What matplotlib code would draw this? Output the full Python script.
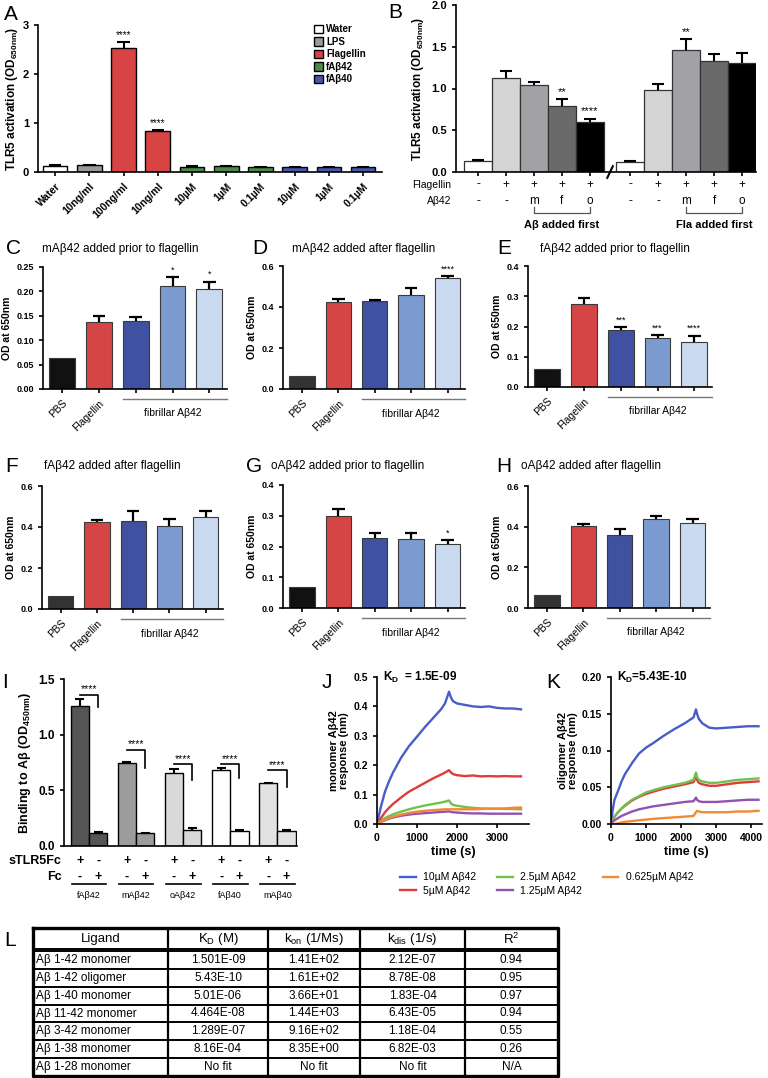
import numpy as np
import matplotlib
matplotlib.use('Agg')
import matplotlib.pyplot as plt
from matplotlib.patches import Patch

plt.rcParams['font.family'] = ['Liberation Sans', 'DejaVu Sans']
plt.rcParams['mathtext.fontset'] = 'custom'
plt.rcParams['mathtext.rm'] = 'Liberation Sans'
plt.rcParams['mathtext.bf'] = 'Liberation Sans:bold'
plt.rcParams['mathtext.it'] = 'Liberation Sans:italic'
plt.rcParams['axes.linewidth'] = 1.2
plt.rcParams['xtick.major.width'] = 1.2
plt.rcParams['ytick.major.width'] = 1.2
plt.rcParams['xtick.major.size'] = 3
plt.rcParams['ytick.major.size'] = 3

# ---------------- data ----------------
# A: TLR5 activation
a_labels = ['Water', '10ng/ml', '100ng/ml', '10ng/ml', '10µM', '1µM', '0.1µM', '10µM', '1µM', '0.1µM']
a_groups = ['Water', 'LPS', 'Flagellin', 'Flagellin', 'fAβ42', 'fAβ42', 'fAβ42', 'fAβ40', 'fAβ40', 'fAβ40']
a_vals = [0.125, 0.135, 2.54, 0.83, 0.11, 0.12, 0.10, 0.10, 0.10, 0.10]
a_errs = [0.01, 0.015, 0.11, 0.02, 0.005, 0.008, 0.005, 0.004, 0.004, 0.004]
a_stars = ['', '', '****', '****', '', '', '', '', '', '']

# B: order of addition
b_flag = ['-', '+', '+', '+', '+', '-', '+', '+', '+', '+']
b_abeta = ['-', '-', 'm', 'f', 'o', '-', '-', 'm', 'f', 'o']
b_vals = [0.13, 1.12, 1.04, 0.79, 0.60, 0.12, 0.98, 1.46, 1.33, 1.30]
b_errs = [0.01, 0.09, 0.04, 0.08, 0.04, 0.01, 0.07, 0.13, 0.08, 0.12]
b_stars = ['', '', '', '**', '****', '', '', '**', '', '']
b_brackets = ['Aβ added first', 'Fla added first']

# C-H: OD at 650nm
od_ticklabels = ['PBS', 'Flagellin', '', '', '']
c_vals = [0.064, 0.137, 0.140, 0.211, 0.204]
c_errs = [0.0, 0.013, 0.008, 0.018, 0.016]
c_stars = ['', '', '', '*', '*']
d_vals = [0.062, 0.426, 0.430, 0.460, 0.540]
d_errs = [0.0, 0.014, 0.006, 0.032, 0.012]
d_stars = ['', '', '', '', '****']
e_vals = [0.059, 0.276, 0.188, 0.161, 0.149]
e_errs = [0.0, 0.017, 0.009, 0.011, 0.021]
e_stars = ['', '', '***', '***', '****']
f_vals = [0.061, 0.425, 0.430, 0.407, 0.447]
f_errs = [0.0, 0.009, 0.047, 0.032, 0.032]
g_vals = [0.067, 0.299, 0.228, 0.224, 0.208]
g_errs = [0.0, 0.023, 0.015, 0.021, 0.014]
g_stars = ['', '', '', '', '*']
h_vals = [0.063, 0.405, 0.357, 0.436, 0.420]
h_errs = [0.0, 0.008, 0.030, 0.016, 0.017]

# I: binding to Abeta
i_ligands = ['fAβ42', 'mAβ42', 'oAβ42', 'fAβ40', 'mAβ40']
i_tlr = [1.26, 0.745, 0.655, 0.685, 0.565]
i_tlr_err = [0.06, 0.012, 0.035, 0.012, 0.005]
i_fc = [0.12, 0.117, 0.147, 0.135, 0.132]
i_fc_err = [0.005, 0.004, 0.013, 0.006, 0.015]
i_bracket_top = [1.357, 0.862, 0.733, 0.733, 0.68]
i_bracket_drop = [1.246, 0.697, 0.59, 0.607, 0.526]

# J/K: BLI sensorgrams
conc_labels = ['10µM Aβ42', '5µM Aβ42', '2.5µM Aβ42', '1.25µM Aβ42', '0.625µM Aβ42']
j_time = [0, 100, 200, 300, 400, 600, 800, 1000, 1200, 1400, 1600, 1700, 1800, 1850, 1900,
          2000, 2200, 2400, 2600, 2800, 3000, 3200, 3400, 3600]
j_10 = [0.0, 0.06, 0.11, 0.145, 0.175, 0.225, 0.265, 0.297, 0.33, 0.36, 0.39, 0.41, 0.45, 0.43, 0.418,
        0.41, 0.405, 0.40, 0.398, 0.40, 0.395, 0.393, 0.393, 0.39]
j_5 = [0.0, 0.02, 0.04, 0.055, 0.068, 0.09, 0.11, 0.125, 0.14, 0.155, 0.168, 0.175, 0.183, 0.175, 0.17,
       0.166, 0.163, 0.165, 0.162, 0.163, 0.162, 0.163, 0.162, 0.162]
j_25 = [0.0, 0.01, 0.02, 0.027, 0.033, 0.042, 0.05, 0.057, 0.063, 0.068, 0.073, 0.076, 0.08, 0.07, 0.065,
        0.062, 0.058, 0.055, 0.053, 0.052, 0.052, 0.051, 0.051, 0.05]
j_125 = [0.0, 0.007, 0.013, 0.018, 0.022, 0.028, 0.032, 0.035, 0.037, 0.039, 0.041, 0.042, 0.043, 0.041, 0.04,
         0.039, 0.037, 0.036, 0.036, 0.035, 0.035, 0.035, 0.035, 0.035]
j_0625 = [0.0, 0.008, 0.015, 0.02, 0.025, 0.032, 0.038, 0.042, 0.045, 0.047, 0.049, 0.05, 0.05, 0.05, 0.05,
          0.05, 0.05, 0.05, 0.051, 0.052, 0.052, 0.053, 0.055, 0.056]
k_time = [0, 50, 100, 200, 300, 400, 600, 800, 1000, 1200, 1500, 1800, 2100, 2350, 2420, 2450,
          2500, 2600, 2800, 3000, 3300, 3600, 3900, 4200]
k_10 = [0.0, 0.02, 0.033, 0.045, 0.058, 0.068, 0.083, 0.096, 0.104, 0.11, 0.12, 0.129, 0.137, 0.145, 0.156, 0.15,
        0.143, 0.137, 0.131, 0.13, 0.131, 0.132, 0.133, 0.133]
k_5 = [0.0, 0.005, 0.01, 0.016, 0.021, 0.025, 0.032, 0.037, 0.041, 0.044, 0.048, 0.051, 0.054, 0.057, 0.064, 0.06,
       0.056, 0.054, 0.052, 0.052, 0.054, 0.056, 0.057, 0.058]
k_25 = [0.0, 0.005, 0.01, 0.016, 0.021, 0.026, 0.033, 0.038, 0.043, 0.046, 0.05, 0.053, 0.056, 0.06, 0.07, 0.064,
        0.06, 0.058, 0.056, 0.056, 0.058, 0.06, 0.061, 0.062]
k_125 = [0.0, 0.003, 0.005, 0.008, 0.011, 0.013, 0.017, 0.02, 0.022, 0.024, 0.026, 0.028, 0.03, 0.031, 0.036, 0.033,
         0.031, 0.03, 0.03, 0.03, 0.031, 0.032, 0.033, 0.033]
k_0625 = [0.0, 0.0, 0.0, 0.001, 0.002, 0.003, 0.004, 0.005, 0.006, 0.007, 0.008, 0.009, 0.01, 0.011, 0.016, 0.018,
          0.017, 0.016, 0.016, 0.016, 0.016, 0.017, 0.017, 0.018]

# L: kinetics table
l_header = ['Ligand', r'K$_\mathrm{D}$ (M)', r'k$_\mathrm{on}$ (1/Ms)', r'k$_\mathrm{dis}$ (1/s)', r'R$^2$']
l_ligand = ['Aβ 1-42 monomer', 'Aβ 1-42 oligomer', 'Aβ 1-40 monomer', 'Aβ 11-42 monomer',
            'Aβ 3-42 monomer', 'Aβ 1-38 monomer', 'Aβ 1-28 monomer']
l_kd = ['1.501E-09', '5.43E-10', '5.01E-06', '4.464E-08', '1.289E-07', '8.16E-04', 'No fit']
l_kon = ['1.41E+02', '1.61E+02', '3.66E+01', '1.44E+03', '9.16E+02', '8.35E+00', 'No fit']
l_kdis = ['2.12E-07', '8.78E-08', '1.83E-04', '6.43E-05', '1.18E-04', '6.82E-03', 'No fit']
l_r2 = ['0.94', '0.95', '0.97', '0.94', '0.55', '0.26', 'N/A']

# ---------------- layout helpers ----------------
W, H = 768, 1078
fig = plt.figure(figsize=(W / 100, H / 100), dpi=100)


def add_ax(l, t, r, b):
    return fig.add_axes([l / W, 1 - b / H, (r - l) / W, (b - t) / H])


def prism(ax):
    ax.spines['top'].set_visible(False)
    ax.spines['right'].set_visible(False)
    ax.tick_params(direction='out')


def letter(x, y, s):
    fig.text(x / W, 1 - y / H, s, fontsize=15, ha='left', va='center')


def up_err(ax, x, vals, errs, half, lw=1.5):
    x = np.asarray(x, dtype=float)
    top = np.asarray(vals) + np.asarray(errs)
    ax.vlines(x, vals, top, color='black', lw=lw, zorder=3)
    ax.hlines(top, x - half, x + half, color='black', lw=lw, zorder=3)


# ---------------- panel A ----------------
axA = add_ax(38, 25, 382, 172)
prism(axA)
a_colors = {'Water': 'white', 'LPS': '#9a9a9a', 'Flagellin': '#d84343', 'fAβ42': '#4a8a4a', 'fAβ40': '#4656a8'}
xa = np.arange(len(a_vals))
axA.bar(xa, a_vals, width=0.72, color=[a_colors[g] for g in a_groups], edgecolor='black', linewidth=1.0)
up_err(axA, xa, a_vals, a_errs, 0.18)
for x, v, e, s in zip(xa, a_vals, a_errs, a_stars):
    if s:
        axA.text(x, v + e + 0.05, s, ha='center', va='bottom', fontsize=7)
axA.set_xlim(-0.5, 9.55)
axA.set_ylim(0, 3)
axA.set_yticks([0, 1, 2, 3])
axA.set_yticklabels(['0', '1', '2', '3'], fontsize=8, fontweight='bold')
axA.set_xticks(xa)
axA.set_xticklabels(a_labels, rotation=45, ha='right', rotation_mode='anchor', fontsize=7.5, fontweight='bold')
axA.set_ylabel(r'TLR5 activation (OD$_\mathbf{650nm}$)', fontsize=8.5, fontweight='bold', labelpad=2)
handles = [Patch(facecolor=a_colors[k], edgecolor='black', linewidth=1.0) for k in a_colors]
axA.legend(handles, list(a_colors), loc='upper left', bbox_to_anchor=(0.79, 1.03), frameon=False,
           prop={'size': 7, 'weight': 'bold'}, handlelength=1.0, handleheight=1.0, handletextpad=0.3,
           labelspacing=0.25, borderaxespad=0)
letter(4, 14, 'A')

# ---------------- panel B ----------------
axB = add_ax(456, 5, 756, 172)
prism(axB)
xb = np.array([0, 1, 2, 3, 4, 5.44, 6.44, 7.44, 8.44, 9.44])
b_colors = ['white', '#d4d4d4', '#a2a2a6', '#6a6a6a', '#000000'] * 2
axB.bar(xb, b_vals, width=1.0, color=b_colors, edgecolor='#333333', linewidth=0.9)
up_err(axB, xb, b_vals, b_errs, 0.22)
for x, v, e, s in zip(xb, b_vals, b_errs, b_stars):
    if s:
        axB.text(x, v + e + 0.03, s, ha='center', va='bottom', fontsize=8)
axB.set_xlim(-0.79, 9.94)
axB.set_ylim(0, 2)
axB.set_yticks([0, 0.5, 1.0, 1.5, 2.0])
axB.set_yticklabels(['0.0', '0.5', '1.0', '1.5', '2.0'], fontsize=8, fontweight='bold')
axB.set_xticks(xb)
axB.set_xticklabels([])
axB.set_ylabel(r'TLR5 activation (OD$_\mathbf{650nm}$)', fontsize=8.5, fontweight='bold', labelpad=4)
axB.plot([4.62, 4.82], [-0.07, 0.07], color='black', lw=1.5, clip_on=False)
tb = axB.get_xaxis_transform()
for x, f, a in zip(xb, b_flag, b_abeta):
    axB.text(x, -0.075, f, transform=tb, ha='center', va='center', fontsize=8.5)
    axB.text(x, -0.175, a, transform=tb, ha='center', va='center', fontsize=8.5)
axB.text(-0.015, -0.075, 'Flagellin', transform=axB.transAxes, ha='right', va='center', fontsize=7.5)
axB.text(-0.015, -0.175, 'Aβ42', transform=axB.transAxes, ha='right', va='center', fontsize=7.5)
for i, lab in enumerate(b_brackets):
    x0, x1 = xb[5 * i + 2], xb[5 * i + 4]
    axB.plot([x0, x0, x1, x1], [-0.21, -0.245, -0.245, -0.21], transform=tb, color='#555555', lw=0.9,
             clip_on=False)
    axB.text((x0 + x1) / 2, -0.315, lab, transform=tb, ha='center', va='center', fontsize=8, fontweight='bold')
letter(388, 12, 'B')

# ---------------- panels C-H ----------------
od_colors = ['#d64545', '#3f51a0', '#7b9bd0', '#c9d9ef']


def od_panel(box, vals, errs, stars, ymax, ticks, fmt, pbs_color, title, let, let_x, title_x, title_y):
    ax = add_ax(*box)
    prism(ax)
    x = np.arange(len(vals))
    ax.bar(x, vals, width=0.7, color=[pbs_color] + od_colors, edgecolor='#3a3a3a', linewidth=0.8)
    up_err(ax, x[1:], vals[1:], errs[1:], 0.17, lw=1.6)
    for xi, v, e, s in zip(x, vals, errs, stars):
        if s:
            ax.text(xi, v + e + ymax * 0.02, s, ha='center', va='bottom', fontsize=6.5)
    ax.set_xlim(-0.52, 4.48)
    ax.set_ylim(0, ymax)
    ax.set_yticks(ticks)
    ax.set_yticklabels([fmt.format(t) for t in ticks], fontsize=6.5, fontweight='bold')
    ax.set_xticks(x)
    ax.set_xticklabels(od_ticklabels, rotation=45, ha='right', rotation_mode='anchor', fontsize=7.5)
    ax.set_ylabel('OD at 650nm', fontsize=7.5, fontweight='bold', labelpad=3)
    tr = ax.get_xaxis_transform()
    ax.plot([1.65, 4.48], [-0.085, -0.085], transform=tr, color='#777777', lw=1.0, clip_on=False)
    ax.text(3.0, -0.2, 'fibrillar Aβ42', transform=tr, ha='center', va='center', fontsize=7.5)
    letter(let_x, title_y, let)
    fig.text(title_x / W, 1 - title_y / H, title, fontsize=8.5, ha='left', va='center')
    return ax


od_panel((43, 267, 227, 389), c_vals, c_errs, c_stars, 0.25, [0, 0.05, 0.10, 0.15, 0.20, 0.25], '{:.2f}',
         '#111111', 'mAβ42 added prior to flagellin', 'C', 6, 42, 249)
od_panel((283, 266, 465, 389), d_vals, d_errs, d_stars, 0.6, [0, 0.2, 0.4, 0.6], '{:.1f}',
         '#333333', 'mAβ42 added after flagellin', 'D', 252, 292, 249)
od_panel((528, 266, 712, 387), e_vals, e_errs, e_stars, 0.4, [0, 0.1, 0.2, 0.3, 0.4], '{:.1f}',
         '#111111', 'fAβ42 added prior to flagellin', 'E', 497, 540, 249)
od_panel((42, 486, 223, 609), f_vals, f_errs, [''] * 5, 0.6, [0, 0.2, 0.4, 0.6], '{:.1f}',
         '#333333', 'fAβ42 added after flagellin', 'F', 5, 44, 466)
od_panel((283, 485, 465, 608), g_vals, g_errs, g_stars, 0.4, [0, 0.1, 0.2, 0.3, 0.4], '{:.1f}',
         '#111111', 'oAβ42 added prior to flagellin', 'G', 246, 271, 466)
od_panel((528, 486, 710, 608), h_vals, h_errs, [''] * 5, 0.6, [0, 0.2, 0.4, 0.6], '{:.1f}',
         '#333333', 'oAβ42 added after flagellin', 'H', 496, 521, 466)

# ---------------- panel I ----------------
axI = add_ax(64, 679, 297, 846)
prism(axI)
i_colors = ['#555555', '#9c9c9c', '#d9d9d9', 'white', '#e2e2e2']
step = 2.57
xl = np.arange(5) * step
xr = xl + 1
axI.bar(xl, i_tlr, width=1.0, color=i_colors, edgecolor='black', linewidth=1.0)
axI.bar(xr, i_fc, width=1.0, color=i_colors, edgecolor='black', linewidth=1.0)
up_err(axI, xl, i_tlr, i_tlr_err, 0.25)
up_err(axI, xr, i_fc, i_fc_err, 0.25)
for a, b, top, drop in zip(xl, xr, i_bracket_top, i_bracket_drop):
    axI.plot([a, b, b], [top, top, drop], color='black', lw=1.2)
    axI.text((a + b) / 2, top + 0.005, '****', ha='center', va='bottom', fontsize=7.5)
axI.set_xlim(-0.86, 11.85)
axI.set_ylim(0, 1.5)
axI.set_yticks([0, 0.5, 1.0, 1.5])
axI.set_yticklabels(['0.0', '0.5', '1.0', '1.5'], fontsize=8.5, fontweight='bold')
axI.set_xticks([])
axI.set_ylabel(r'Binding to Aβ (OD$_\mathbf{450nm}$)', fontsize=9, fontweight='bold', labelpad=4)
ti = axI.get_xaxis_transform()
for a, b, lab in zip(xl, xr, i_ligands):
    axI.text(a, -0.09, '+', transform=ti, ha='center', va='center', fontsize=9, fontweight='bold')
    axI.text(b, -0.09, '-', transform=ti, ha='center', va='center', fontsize=9, fontweight='bold')
    axI.text(a, -0.185, '-', transform=ti, ha='center', va='center', fontsize=9, fontweight='bold')
    axI.text(b, -0.185, '+', transform=ti, ha='center', va='center', fontsize=9, fontweight='bold')
    axI.plot([a - 0.45, b + 0.45], [-0.23, -0.23], transform=ti, color='black', lw=1.2, clip_on=False)
    axI.text((a + b) / 2, -0.295, lab, transform=ti, ha='center', va='center', fontsize=6.5)
axI.text(-0.01, -0.09, 'sTLR5Fc', transform=axI.transAxes, ha='right', va='center', fontsize=9, fontweight='bold')
axI.text(-0.01, -0.185, 'Fc', transform=axI.transAxes, ha='right', va='center', fontsize=9, fontweight='bold')
letter(2, 683, 'I')

# ---------------- panels J, K ----------------
curve_colors = ['#4a5cc8', '#e03a3a', '#70c24c', '#9550b4', '#f08a35']
axJ = add_ax(377, 677, 529, 824)
prism(axJ)
lines = []
for ys, c, lab in zip([j_10, j_5, j_25, j_125, j_0625], curve_colors, conc_labels):
    ln, = axJ.plot(j_time, ys, color=c, lw=1.7, label=lab)
    lines.append(ln)
axJ.set_xlim(0, 3800)
axJ.set_ylim(0, 0.5)
axJ.set_xticks([0, 1000, 2000, 3000])
axJ.set_xticklabels(['0', '1000', '2000', '3000'], fontsize=7.5, fontweight='bold')
axJ.set_yticks([0, 0.1, 0.2, 0.3, 0.4, 0.5])
axJ.set_yticklabels(['0.0', '0.1', '0.2', '0.3', '0.4', '0.5'], fontsize=7.5, fontweight='bold')
axJ.set_xlabel('time (s)', fontsize=9, fontweight='bold', labelpad=2)
axJ.set_ylabel('monomer Aβ42\nresponse (nm)', fontsize=8, fontweight='bold', labelpad=3, linespacing=1.0)
axJ.text(0.04, 1.0, r'$\mathbf{K_D}$  = 1.5E-09', transform=axJ.transAxes, fontsize=8.5, fontweight='bold',
         ha='left', va='center')
letter(322, 682, 'J')

axK = add_ax(611, 677, 762, 824)
prism(axK)
for ys, c in zip([k_10, k_5, k_25, k_125, k_0625], curve_colors):
    axK.plot(k_time, ys, color=c, lw=1.7)
axK.set_xlim(0, 4300)
axK.set_ylim(0, 0.2)
axK.set_xticks([0, 1000, 2000, 3000, 4000])
axK.set_xticklabels(['0', '1000', '2000', '3000', '4000'], fontsize=7.5, fontweight='bold')
axK.set_yticks([0, 0.05, 0.10, 0.15, 0.20])
axK.set_yticklabels(['0.00', '0.05', '0.10', '0.15', '0.20'], fontsize=7.5, fontweight='bold')
axK.set_xlabel('time (s)', fontsize=9, fontweight='bold', labelpad=2)
axK.set_ylabel('oligomer Aβ42\nresponse (nm)', fontsize=8, fontweight='bold', labelpad=3, linespacing=1.0)
axK.text(0.04, 1.0, r'$\mathbf{K_D}$=5.43E-10', transform=axK.transAxes, fontsize=8.5, fontweight='bold',
         ha='left', va='center')
letter(546, 682, 'K')

fig.legend(lines, conc_labels, ncol=3, loc='upper left', bbox_to_anchor=(396 / W, 1 - 868 / H), frameon=False,
           fontsize=7.5, handlelength=1.5, handletextpad=0.7, columnspacing=2.0, labelspacing=0.35,
           borderaxespad=0)

# ---------------- table L ----------------
axL = add_ax(33, 928, 558, 1076)
axL.set_xlim(0, 525)
axL.set_ylim(148, 0)
axL.axis('off')
col_x = [0, 135, 235, 327, 432, 525]
row_h = (148 - 23) / 7
axL.plot([0, 525, 525, 0, 0], [0, 0, 148, 148, 0], color='black', lw=2.4, clip_on=False)
for cx in col_x[1:-1]:
    axL.plot([cx, cx], [0, 148], color='black', lw=1.6)
axL.plot([0, 525], [20.5, 20.5], color='black', lw=1.4)
axL.plot([0, 525], [23, 23], color='black', lw=1.4)
for r in range(1, 7):
    yy = 23 + r * row_h
    axL.plot([0, 525], [yy, yy], color='black', lw=1.4)
for j, h in enumerate(l_header):
    axL.text((col_x[j] + col_x[j + 1]) / 2, 11, h, ha='center', va='center', fontsize=9.5)
for r, row in enumerate(zip(l_ligand, l_kd, l_kon, l_kdis, l_r2)):
    yy = 23 + (r + 0.5) * row_h
    axL.text(3, yy, row[0], ha='left', va='center', fontsize=8.5)
    for j in range(1, 5):
        axL.text((col_x[j] + col_x[j + 1]) / 2, yy, row[j], ha='center', va='center', fontsize=8.5)
letter(4, 941, 'L')

fig.savefig('out.png', dpi=100)
